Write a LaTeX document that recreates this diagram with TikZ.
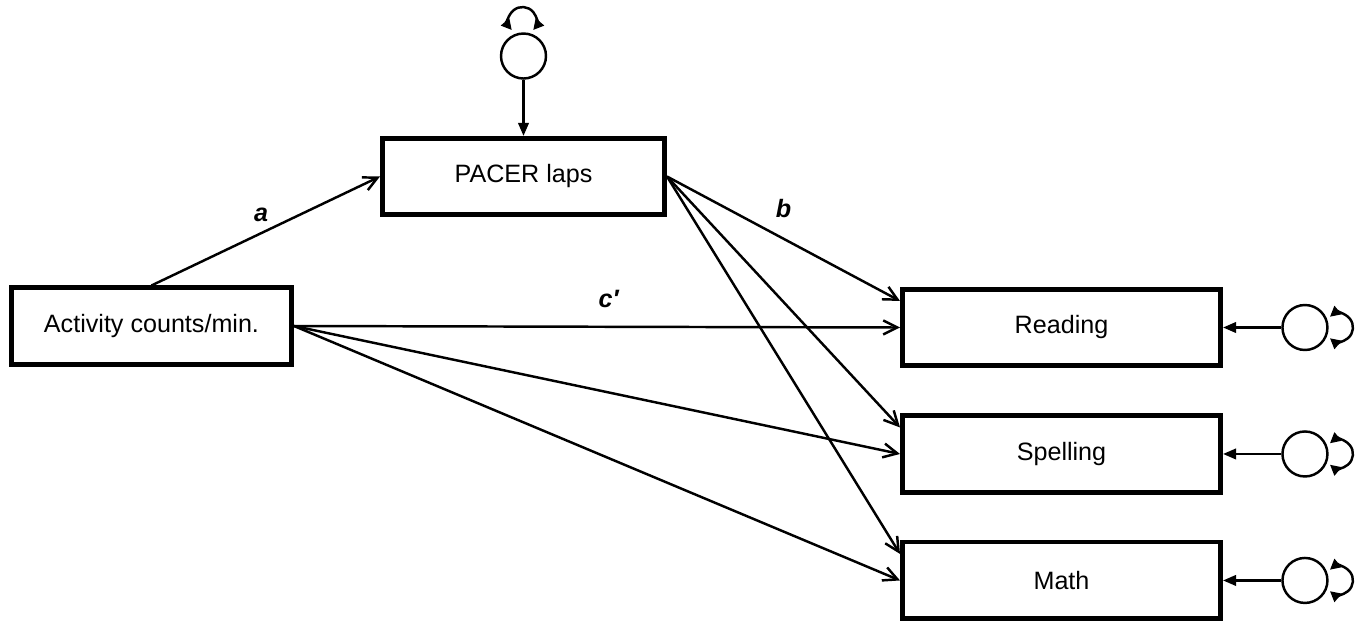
\documentclass[tikz,border=0pt]{standalone}
\usepackage{fontspec}
\setmainfont{Liberation Sans}
\usetikzlibrary{positioning,arrows.meta}
\newcommand{\lab}[1]{\textbf{\textit{#1}}}

\begin{document}
\begin{tikzpicture}[x=0.02cm,y=0.02cm,font=\fontsize{14.3}{17}\selectfont,
  node distance=2.53cm,on grid,
  box/.style={draw,line width=2.6pt,minimum height=1.53cm,inner sep=0pt},
  err/.style={draw,circle,line width=1.4pt,minimum size=0.9cm,inner sep=0pt},
  arr/.style={line width=1.4pt,-{Straight Barb[length=8pt,width=8pt]}},
  errarr/.style={line width=1.4pt,-{Triangle[length=7.5pt,width=6pt]}},
  varloop/.style={line width=1.4pt,{Triangle[length=6pt,width=6pt]}-{Triangle[length=6pt,width=6pt]}}]
\useasboundingbox (0,0) rectangle (1363,-625);
%\draw[help lines] (0,0) grid (1363,-625);
\node[box,minimum width=5.65cm] (pacer) at (523.5,-176.5) {PACER laps};
\node[box,minimum width=5.61cm] (act)   at (151.5,-326)   {Activity counts/min.};
\node[box,minimum width=6.37cm] (read)  at (1061.5,-327.5) {Reading};
\node[box,minimum width=6.37cm] (spell) [below=of read]  {Spelling};
\node[box,minimum width=6.37cm] (math)  [below=of spell] {Math};
\node[err] (e0) [above=2.41cm of pacer] {};
\node[err] (e1) [right=4.87cm of read]  {};
\node[err] (e2) [right=4.87cm of spell] {};
\node[err] (e3) [right=4.87cm of math]  {};
\path[arr]
(act.north)  edge node[pos=0.48,above=2.6pt] {\lab{a}} (pacer.west)
(pacer.east) edge node[pos=0.5,above=7.7pt] {\lab{b}} ([yshift=-0.28cm]read.north west)
             edge ([yshift=-0.28cm]spell.north west)
             edge ([yshift=-0.28cm]math.north west)
(act.east)   edge node[pos=0.52,above=6.6pt] {\lab{c′}} (read.west)
             edge (spell.west)
             edge (math.west);
\path[errarr]
(e0) edge (pacer)
(e1) edge (read)
(e2) edge (spell)
(e3) edge (math);
\draw[varloop] ([shift={(-1,35)}]e0.center) ++(220:14) arc[start angle=220,end angle=-40,radius=14];
\foreach \e in {e1,e2,e3}
  \draw[varloop] ([shift={(34,0)}]\e.center) ++(130:14) arc[start angle=130,end angle=-130,radius=14];
\end{tikzpicture}
\end{document}
